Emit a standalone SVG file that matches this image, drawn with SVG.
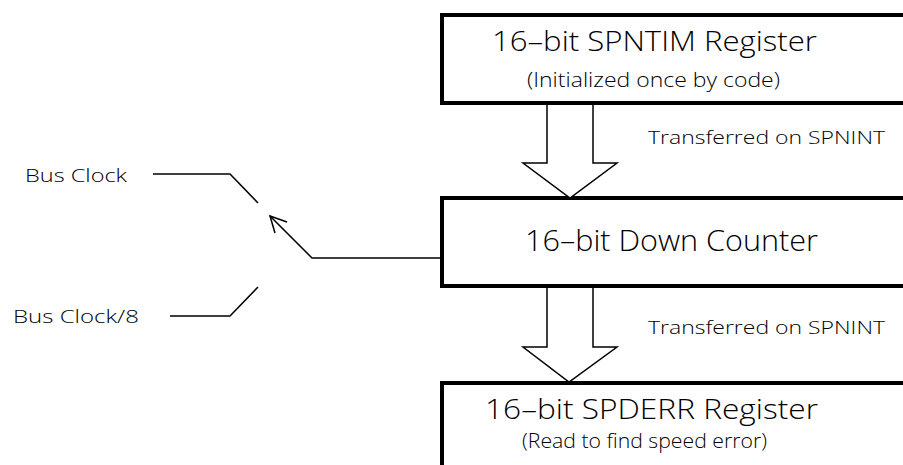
<svg xmlns="http://www.w3.org/2000/svg" width="903" height="465" viewBox="0 0 903 465">
  <style>
    .box { fill: #ffffff; stroke: #000000; stroke-width: 4; }
    .blk { fill: #ffffff; stroke: #000000; stroke-width: 1.5; stroke-linejoin: miter; }
    .wire { fill: none; stroke: #000000; stroke-width: 1.5; }
    text { font-family: "Open Sans", "DejaVu Sans", sans-serif; font-weight: 300; fill: #000000; }
    .big { font-size: 28px; }
    .small { font-size: 20px; }
    .lbl { font-size: 18px; }
  </style>

  <!-- SPNTIM register -->
  <g id="spntim">
    <rect class="box" x="442" y="15" width="480" height="88"/>
    <text class="big" x="492" y="51" textLength="325" lengthAdjust="spacingAndGlyphs">16–bit SPNTIM Register</text>
    <text class="small" x="527" y="87" textLength="253" lengthAdjust="spacingAndGlyphs">(Initialized once by code)</text>
  </g>

  <!-- down counter -->
  <g id="counter">
    <rect class="box" x="442" y="198" width="480" height="88"/>
    <text class="big" x="525" y="251" textLength="293" lengthAdjust="spacingAndGlyphs" style="font-size:29px">16–bit Down Counter</text>
  </g>

  <!-- SPDERR register -->
  <g id="spderr">
    <rect class="box" x="442" y="383" width="480" height="100"/>
    <text class="big" x="485" y="419" textLength="333" lengthAdjust="spacingAndGlyphs">16–bit SPDERR Register</text>
    <text class="small" x="522" y="448" textLength="245" lengthAdjust="spacingAndGlyphs">(Read to find speed error)</text>
  </g>

  <!-- clock source labels -->
  <g id="busclk">
    <text class="lbl" x="25" y="182" textLength="102" lengthAdjust="spacingAndGlyphs">Bus Clock</text>
  </g>
  <g id="busclk8">
    <text class="lbl" x="13" y="323" textLength="126" lengthAdjust="spacingAndGlyphs">Bus Clock/8</text>
  </g>

  <!-- connectors -->
  <g id="connectors">
    <!-- transfer arrows -->
    <polyline class="blk" points="547,105 547,163 523,163 570,198 617,163 593,163 593,105"/>
    <text class="lbl" x="648" y="144" textLength="237" lengthAdjust="spacingAndGlyphs">Transferred on SPNINT</text>
    <polyline class="blk" points="547,288 547,347 523,347 569,382 617,347 593,347 593,288"/>
    <text class="lbl" x="648" y="334" textLength="237" lengthAdjust="spacingAndGlyphs">Transferred on SPNINT</text>

    <!-- clock select switch -->
    <polyline class="wire" points="153,174 230,174 258,203"/>
    <polyline class="wire" points="170,316 230,316 258,287"/>
    <polyline class="wire" points="442,258 312,258 270,216"/>
    <polyline class="wire" points="287,222 270,216 275,233"/>
  </g>
</svg>
